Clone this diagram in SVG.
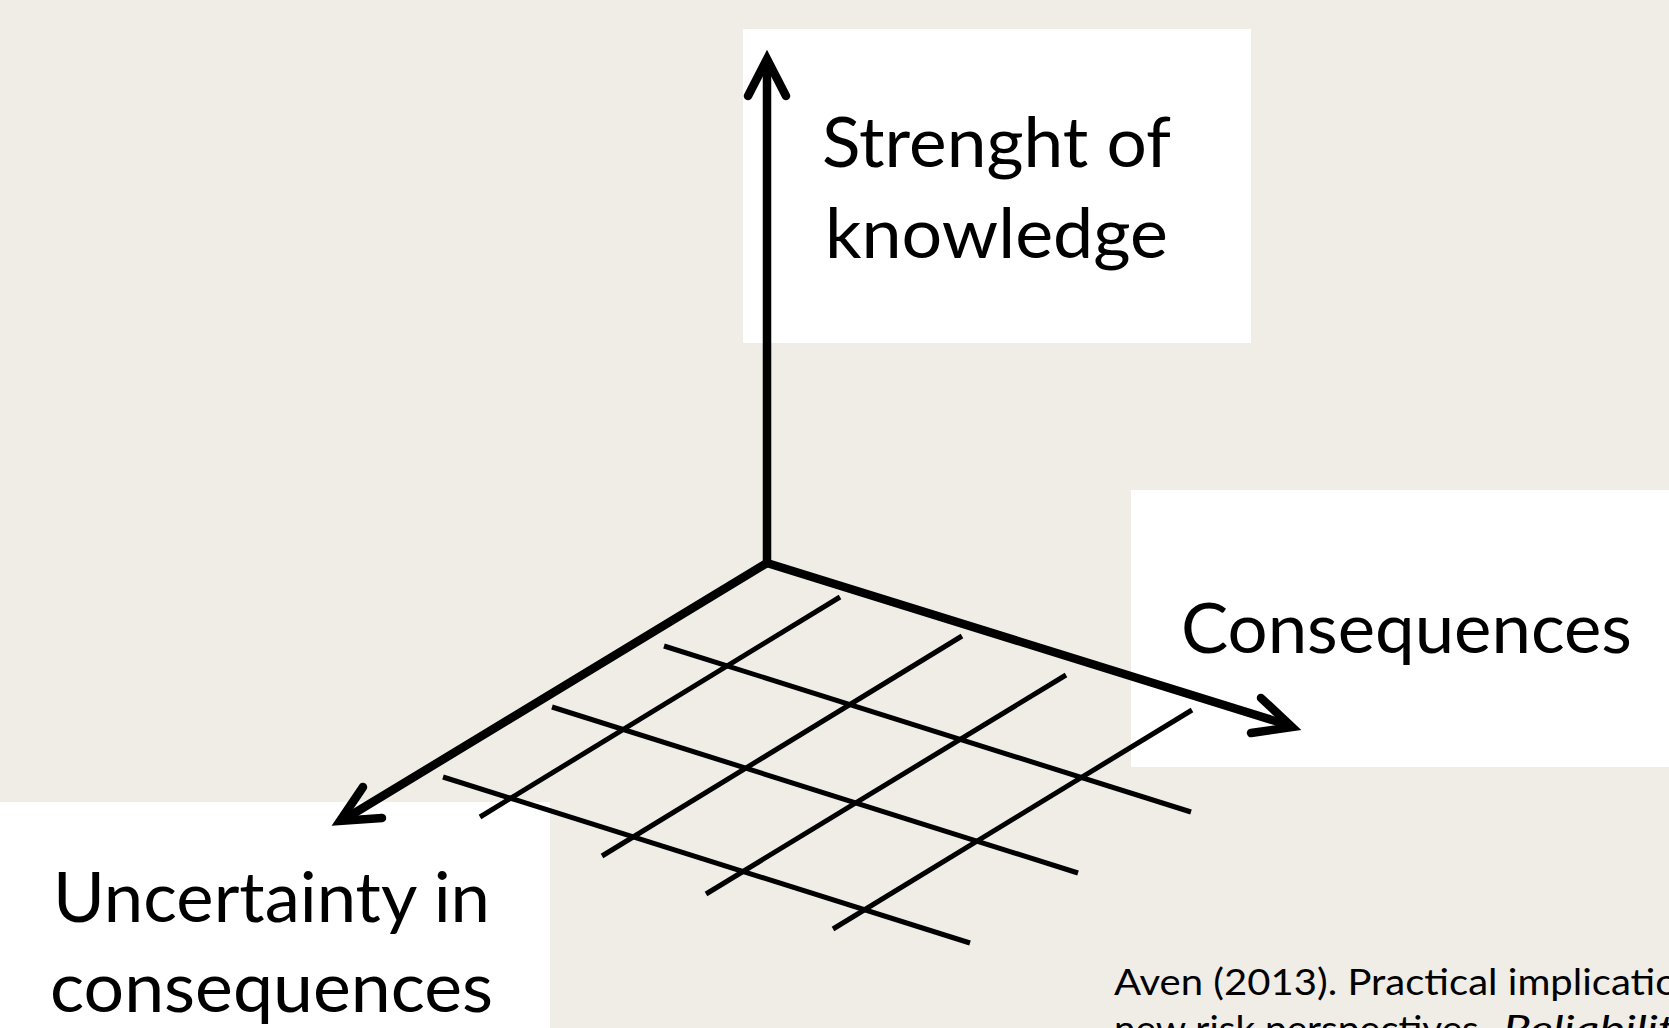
<svg xmlns="http://www.w3.org/2000/svg" width="1669" height="1028" viewBox="0 0 1669 1028">
  <style>
    .bg { fill: #efede6; }
    .box { fill: #ffffff; }
    .lbl { font-family: Lato, "Open Sans", "Liberation Sans", sans-serif; font-size: 69px; fill: #000000; }
    .cite { font-family: Lato, "Open Sans", "Liberation Sans", sans-serif; font-size: 36px; fill: #000000; }
    .axis { stroke: #000000; stroke-width: 8.5; fill: none; stroke-linecap: round; stroke-linejoin: miter; }
    .head { stroke: #000000; stroke-width: 8.5; fill: none; stroke-linecap: round; stroke-linejoin: miter; stroke-miterlimit: 10; }
    .grid { stroke: #000000; stroke-width: 5; fill: none; stroke-linecap: butt; }
  </style>
  <rect class="bg" x="0" y="0" width="1669" height="1028"/>

  <g id="node-strength">
    <rect class="box" x="743" y="29" width="508" height="314"/>
    <text class="lbl" x="822" y="167" textLength="349" lengthAdjust="spacingAndGlyphs">Strenght of</text>
    <text class="lbl" x="825" y="258" textLength="343" lengthAdjust="spacingAndGlyphs">knowledge</text>
  </g>

  <g id="node-consequences">
    <rect class="box" x="1131" y="490" width="538" height="277"/>
    <text class="lbl" x="1181" y="653" textLength="451" lengthAdjust="spacingAndGlyphs">Consequences</text>
  </g>

  <g id="node-uncertainty">
    <rect class="box" x="0" y="802" width="550" height="226"/>
    <text class="lbl" x="53" y="922" textLength="437" lengthAdjust="spacingAndGlyphs">Uncertainty in</text>
    <text class="lbl" x="50" y="1012" textLength="443" lengthAdjust="spacingAndGlyphs">consequences</text>
  </g>

  <g id="node-citation">
    <text class="cite" x="1114" y="995" textLength="564" lengthAdjust="spacingAndGlyphs">Aven (2013). Practical implicatio</text>
    <text class="cite" x="1114" y="1042"><tspan textLength="374" lengthAdjust="spacingAndGlyphs">new risk perspectives.</tspan><tspan x="1503" font-style="italic" textLength="172" lengthAdjust="spacingAndGlyphs">Reliabilit</tspan></text>
  </g>

  <g id="connectors">
    <g id="grid">
      <line class="grid" x1="840" y1="597" x2="480" y2="817"/>
      <line class="grid" x1="962" y1="636" x2="602" y2="856"/>
      <line class="grid" x1="1066" y1="675" x2="706" y2="894"/>
      <line class="grid" x1="1192" y1="710" x2="833" y2="929"/>
      <line class="grid" x1="664" y1="646" x2="1191" y2="812"/>
      <line class="grid" x1="552" y1="707" x2="1078" y2="873"/>
      <line class="grid" x1="443" y1="777" x2="970" y2="943"/>
    </g>
    <g id="axis-strength">
      <line class="axis" x1="767" y1="563" x2="767" y2="62"/>
      <polyline class="head" points="748,96 767,59 786,96"/>
    </g>
    <g id="axis-consequences">
      <line class="axis" x1="767" y1="563" x2="1288" y2="725"/>
      <polyline class="head" points="1261,698 1292,727 1251,733"/>
    </g>
    <g id="axis-uncertainty">
      <line class="axis" x1="767" y1="563" x2="343" y2="820"/>
      <polyline class="head" points="363,787 340,821 382,818"/>
    </g>
  </g>
</svg>
